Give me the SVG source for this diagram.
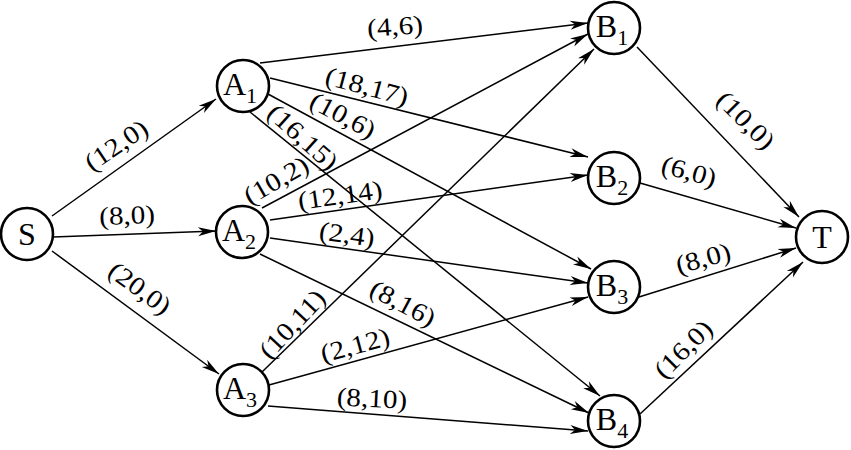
<svg xmlns="http://www.w3.org/2000/svg" width="851" height="450" viewBox="0 0 851 450">
<style>
.n circle{fill:#fff;stroke:#000;stroke-width:2.6}
.n text{font-family:"Liberation Serif","Times New Roman",serif;font-size:32px;fill:#000;text-anchor:middle}
.n tspan.s{font-size:22px}
.e line{stroke:#000;stroke-width:1.5;marker-end:url(#ah)}
.lb text{font-family:"Liberation Serif","Times New Roman",serif;font-size:26px;fill:#000;text-anchor:middle}
</style>
<defs>
<marker id="ah" markerUnits="userSpaceOnUse" markerWidth="20" markerHeight="12" viewBox="-18 -6 19 12" refX="0" refY="0" orient="auto">
<path d="M0,0 L-18,-4.5 L-13,0 L-18,4.5 z" fill="#000"/>
</marker>
</defs>
<rect width="851" height="450" fill="#fff"/>
<g id="connectors" class="e">
<line x1="52" y1="216" x2="216" y2="99"/>
<line x1="53" y1="237" x2="216" y2="231"/>
<line x1="52" y1="251" x2="219" y2="374"/>
<line x1="260" y1="63" x2="588" y2="23"/>
<line x1="270" y1="78" x2="588" y2="157"/>
<line x1="268" y1="94" x2="591" y2="269"/>
<line x1="250" y1="112" x2="600" y2="396"/>
<line x1="262" y1="208" x2="588" y2="34"/>
<line x1="270" y1="220" x2="588" y2="175"/>
<line x1="270" y1="238" x2="588" y2="283"/>
<line x1="260" y1="254" x2="589" y2="413"/>
<line x1="262" y1="372" x2="594" y2="49"/>
<line x1="269" y1="385" x2="588" y2="297"/>
<line x1="268" y1="406" x2="588" y2="431"/>
<line x1="637" y1="47" x2="799" y2="217"/>
<line x1="640" y1="183" x2="796" y2="228"/>
<line x1="639" y1="297" x2="796" y2="248"/>
<line x1="640" y1="414" x2="803" y2="262"/>
</g>
<g id="labels" class="lb">
<g transform="translate(116,145) rotate(-34) scale(1.12,1)"><text x="0" y="9">(12,0)</text></g>
<g transform="translate(127,215) rotate(-2) scale(1.12,1)"><text x="0" y="9">(8,0)</text></g>
<g transform="translate(140,288) rotate(36) scale(1.12,1)"><text x="0" y="9">(20,0)</text></g>
<g transform="translate(395,26) rotate(-4) scale(1.12,1)"><text x="0" y="9">(4,6)</text></g>
<g transform="translate(367,86) rotate(15) scale(1.12,1)"><text x="0" y="9">(18,17)</text></g>
<g transform="translate(343,115) rotate(28) scale(1.12,1)"><text x="0" y="9">(10,6)</text></g>
<g transform="translate(303,137) rotate(42) scale(1.12,1)"><text x="0" y="9">(16,15)</text></g>
<g transform="translate(276,180) rotate(-30) scale(1.12,1)"><text x="0" y="9">(10,2)</text></g>
<g transform="translate(340,195) rotate(-8) scale(1.12,1)"><text x="0" y="9">(12,14)</text></g>
<g transform="translate(347,234) rotate(8) scale(1.12,1)"><text x="0" y="9">(2,4)</text></g>
<g transform="translate(403,303) rotate(28) scale(1.12,1)"><text x="0" y="9">(8,16)</text></g>
<g transform="translate(292,324) rotate(-47) scale(1.12,1)"><text x="0" y="9">(10,11)</text></g>
<g transform="translate(355,345) rotate(-15) scale(1.12,1)"><text x="0" y="9">(2,12)</text></g>
<g transform="translate(372,398) rotate(3) scale(1.12,1)"><text x="0" y="9">(8,10)</text></g>
<g transform="translate(746,120) rotate(45) scale(1.12,1)"><text x="0" y="9">(10,0)</text></g>
<g transform="translate(689,171) rotate(15) scale(1.12,1)"><text x="0" y="9">(6,0)</text></g>
<g transform="translate(703,258) rotate(-15) scale(1.12,1)"><text x="0" y="9">(8,0)</text></g>
<g transform="translate(683,349) rotate(-45) scale(1.12,1)"><text x="0" y="9">(16,0)</text></g>
</g>
<g id="S" class="n"><circle cx="27" cy="234" r="26"/><text x="27" y="245">S</text></g>
<g id="A1" class="n"><circle cx="243" cy="86" r="26"/><text x="240" y="95">A<tspan class="s" dy="8">1</tspan></text></g>
<g id="A2" class="n"><circle cx="242" cy="232" r="26"/><text x="239" y="241">A<tspan class="s" dy="8">2</tspan></text></g>
<g id="A3" class="n"><circle cx="243" cy="390" r="26"/><text x="240" y="399">A<tspan class="s" dy="8">3</tspan></text></g>
<g id="B1" class="n"><circle cx="614" cy="28" r="26"/><text x="612" y="37">B<tspan class="s" dy="8">1</tspan></text></g>
<g id="B2" class="n"><circle cx="614" cy="178" r="26"/><text x="612" y="187">B<tspan class="s" dy="8">2</tspan></text></g>
<g id="B3" class="n"><circle cx="614" cy="287" r="26"/><text x="612" y="296">B<tspan class="s" dy="8">3</tspan></text></g>
<g id="B4" class="n"><circle cx="614" cy="421" r="26"/><text x="612" y="430">B<tspan class="s" dy="8">4</tspan></text></g>
<g id="T" class="n"><circle cx="822" cy="237" r="26"/><text x="822" y="248">T</text></g>
</svg>
